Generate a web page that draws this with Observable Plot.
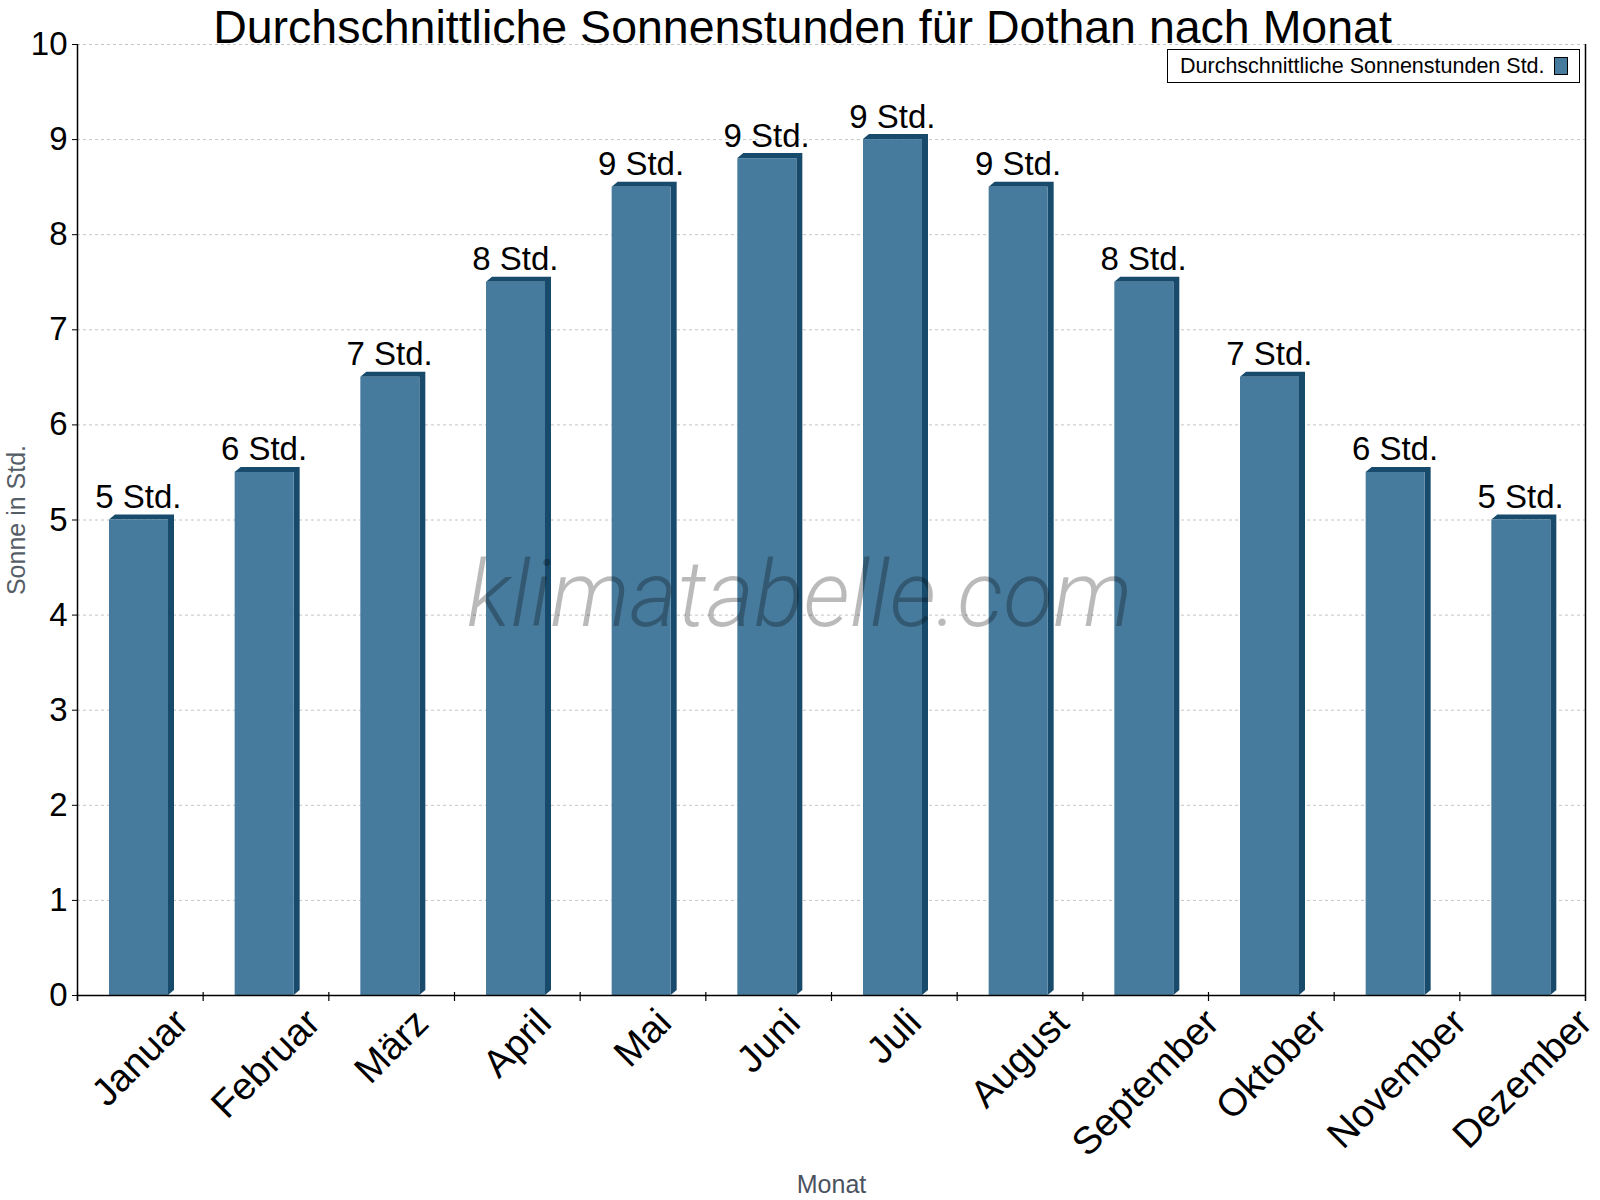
<!DOCTYPE html>
<html>
<head>
<meta charset="utf-8">
<script src="https://cdn.jsdelivr.net/npm/d3@7"></script>
<script src="https://cdn.jsdelivr.net/npm/@observablehq/plot@0.6"></script>
<style>
  html, body { margin: 0; padding: 0; background: #fff; }
  #wrap { position: relative; width: 1600px; height: 1200px; font-family: "Liberation Sans", Arial, sans-serif; }
  #legend { position: absolute; left: 1167px; top: 49px; width: 411px; height: 32px; border: 1px solid #000; background: #fff;
            font-size: 21.5px; line-height: 32px; box-sizing: content-box; }
  #legend .lt { position: absolute; left: 12px; top: 0; white-space: nowrap; }
  #legend .sw { position: absolute; left: 386px; top: 7px; width: 12px; height: 16px; border: 1px solid #000; }
</style>
</head>
<body>
<div id="wrap"></div>
<script>
const months = ["Januar","Februar","März","April","Mai","Juni","Juli","August","September","Oktober","November","Dezember"];
const sunHours = [5.0, 5.5, 6.5, 7.5, 8.5, 8.8, 9.0, 8.5, 7.5, 6.5, 5.5, 5.0];
const barLabels = ["5 Std.","6 Std.","7 Std.","8 Std.","9 Std.","9 Std.","9 Std.","9 Std.","8 Std.","7 Std.","6 Std.","5 Std."];
const yTicks = [0,1,2,3,4,5,6,7,8,9,10];
const titleText = "Durchschnittliche Sonnenstunden für Dothan nach Monat";
const yLabel = "Sonne in Std.";
const xLabel = "Monat";
const legendText = "Durchschnittliche Sonnenstunden Std.";
const watermark = "klimatabelle.com";

const FRONT = "#477b9d";
const DARK = "#184a6c";

const W = 1600, H = 1200, ML = 77, MR = 15, MT = 44, MB = 205;
const step = (W - ML - MR) / months.length;
const insetL = step * 0.2546, insetR = step * 0.2759;
const DX = 6, DY = -5;
const XFS = 38.5;

const data = months.map((m, i) => ({month: m, value: sunHours[i], label: barLabels[i]}));

function bar3d(index, scales, values, dimensions, context, next) {
  const g = next(index, scales, values, dimensions, context);
  d3.select(g).selectAll("rect").each(function() {
    const x = +this.getAttribute("x"), y = +this.getAttribute("y");
    const w = +this.getAttribute("width"), h = +this.getAttribute("height");
    const p = document.createElementNS("http://www.w3.org/2000/svg", "path");
    p.setAttribute("d", `M${x - DX},${y - DY}L${x},${y}L${x + w},${y}L${x + w},${y + h}L${x + w - DX},${y + h - DY}L${x + w - DX},${y - DY}Z`);
    p.setAttribute("fill", DARK);
    this.replaceWith(p);
  });
  return g;
}
function tag(name) {
  return function(index, scales, values, dimensions, context, next) {
    const g = next(index, scales, values, dimensions, context);
    g.setAttribute("class", name);
    return g;
  };
}

const chart = Plot.plot({
  width: W, height: H,
  marginLeft: ML, marginRight: MR, marginTop: MT, marginBottom: MB,
  style: {fontFamily: "'Liberation Sans', Arial, sans-serif", background: "#fff", color: "#000", overflow: "visible"},
  x: {domain: months, padding: 0, round: false, axis: null},
  y: {domain: [0, 10]},
  marks: [
    Plot.gridY({ticks: yTicks.filter(t => t > 0), stroke: "#c4c4c4", strokeOpacity: 1, strokeDasharray: "3,3"}),
    Plot.axisY({ticks: yTicks, tickSize: 5, tickPadding: 5, fontSize: 33, label: null, stroke: "#000"}),
    Plot.barY(data, {x: "month", y: "value", fill: DARK, insetLeft: insetL, insetRight: insetR, dx: DX, dy: DY, render: bar3d}),
    Plot.barY(data, {x: "month", y: "value", fill: FRONT, insetLeft: insetL, insetRight: insetR}),
    Plot.text(data, {x: "month", y: "value", text: "label", dy: -12, dx: -2, lineAnchor: "bottom", fontSize: 33, fill: "#000"}),
    Plot.ruleY([0], {stroke: "#000", strokeWidth: 1.5}),
    Plot.ruleX([months[0]], {dx: -step / 2, insetBottom: -6, stroke: "#000", strokeWidth: 1.5}),
    Plot.ruleX([months[months.length - 1]], {dx: step / 2, insetBottom: -6, stroke: "#000", strokeWidth: 1.5}),
    Plot.ruleX(months, {x: d => d, y1: 0, y2: 0, dx: -step / 2, insetTop: -3, insetBottom: -6, stroke: "#000", strokeWidth: 1.2}),
    Plot.text(months, {x: d => d, text: d => d, frameAnchor: "bottom", rotate: -45, textAnchor: "middle", lineAnchor: "middle", fontSize: XFS, fill: "#000", render: tag("xlabels")}),
    Plot.text([yLabel], {frameAnchor: "left", rotate: -90, dx: -61, textAnchor: "middle", fontSize: 25, fill: "#555d66"}),
    Plot.text([xLabel], {frameAnchor: "bottom", dy: 197, textAnchor: "middle", lineAnchor: "bottom", fontSize: 25, fill: "#4b5360"}),
    Plot.text([titleText], {frameAnchor: "top", dx: -29, dy: -2, textAnchor: "middle", lineAnchor: "bottom", fontSize: 46.5, fill: "#000"}),
    Plot.text([watermark], {frameAnchor: "middle", dx: -32, dy: 105.5, textAnchor: "middle", lineAnchor: "bottom", fontSize: 92, fontStyle: "italic", fontWeight: 300, fontFamily: "Roboto", fill: "#000", fillOpacity: 0.27})
  ]
});

const wrap = document.getElementById("wrap");
wrap.appendChild(chart);

// place rotated month labels so the top of each label's rotated box sits just below the axis
d3.select(chart).selectAll("g.xlabels text").each(function() {
  const L = this.getComputedTextLength();
  const h = XFS * 0.72;
  const off = 11 + (L + h) * 0.3536;
  const t = this.getAttribute("transform") || "";
  this.setAttribute("transform", `translate(0,${off}) ` + t);
});

const legend = document.createElement("div");
legend.id = "legend";
legend.innerHTML = `<span class="lt">${legendText}</span><span class="sw" style="background:${FRONT}"></span>`;
wrap.appendChild(legend);
</script>
</body>
</html>
